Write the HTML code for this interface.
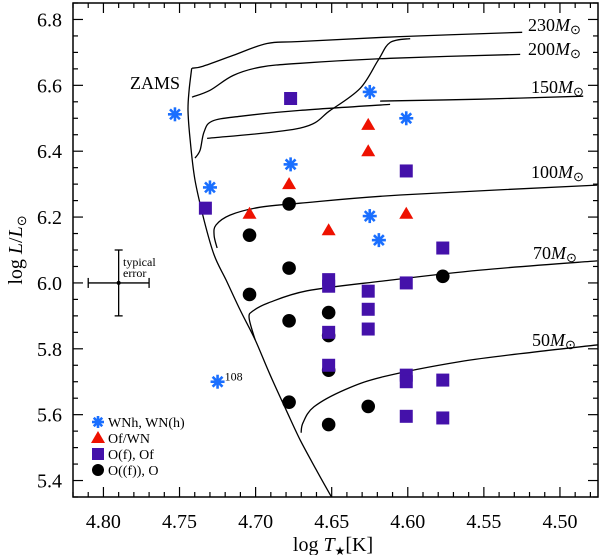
<!DOCTYPE html>
<html><head><meta charset="utf-8">
<style>
body{margin:0;background:#fff;}
svg{display:block;font-family:"Liberation Serif",serif;}
</style></head>
<body>
<svg id="chart" width="600" height="555" viewBox="0 0 600 555">
<g id="plot"></g>
</svg>
<script>
// ---- data ----
const xTicks = [4.80, 4.75, 4.70, 4.65, 4.60, 4.55, 4.50];
const xTickLabels = ["4.80","4.75","4.70","4.65","4.60","4.55","4.50"];
const yTicks = [5.4, 5.6, 5.8, 6.0, 6.2, 6.4, 6.6, 6.8];
const yTickLabels = ["5.4","5.6","5.8","6.0","6.2","6.4","6.6","6.8"];

const wnhT = [4.753, 4.730, 4.677, 4.625, 4.601, 4.625, 4.619, 4.725];
const wnhL = [6.512, 6.290, 6.360, 6.580, 6.500, 6.203, 6.130, 5.700];
const ofwnT = [4.704, 4.678, 4.652, 4.626, 4.626, 4.601];
const ofwnL = [6.210, 6.300, 6.160, 6.480, 6.400, 6.210];
const ofT = [4.733, 4.677, 4.601, 4.577, 4.652, 4.652, 4.652, 4.652, 4.626, 4.626, 4.626, 4.601, 4.601, 4.601, 4.601, 4.577, 4.577];
const ofL = [6.227, 6.560, 6.340, 6.106, 6.010, 5.990, 5.850, 5.750, 5.975, 5.920, 5.860, 6.000, 5.720, 5.700, 5.595, 5.705, 5.590];
const oT = [4.704, 4.704, 4.678, 4.678, 4.678, 4.678, 4.652, 4.652, 4.652, 4.652, 4.626, 4.577];
const oL = [6.145, 5.965, 6.240, 6.045, 5.885, 5.638, 5.910, 5.840, 5.735, 5.570, 5.625, 6.020];

const zamsT = [4.742,4.7437,4.7444,4.743,4.7398,4.7339,4.7273,4.7194,4.7102,4.7003,4.6905,4.68,4.6708,4.6602,4.6504];
const zamsL = [6.652,6.585,6.524,6.433,6.312,6.191,6.085,6.009,5.918,5.827,5.721,5.615,5.524,5.433,5.352];
const t230T = [4.7418,4.7345,4.7148,4.6925,4.6708,4.605,4.5248];
const t230L = [6.652,6.658,6.691,6.727,6.733,6.748,6.761];
const t230bT = [4.7319,4.6708,4.651,4.6313,4.6195,4.6116,4.5984];
const t230bL = [6.439,6.470,6.524,6.591,6.676,6.730,6.742];
const t200T = [4.7418,4.730,4.7148,4.697,4.6708,4.6116,4.5261];
const t200L = [6.564,6.585,6.630,6.655,6.667,6.682,6.694];
const t150T = [4.7398,4.7365,4.7339,4.7286,4.7102,4.6708,4.6116];
const t150L = [6.379,6.403,6.458,6.491,6.506,6.524,6.542];
const t150bT = [4.6182,4.5524,4.4847];
const t150bL = [6.552,6.558,6.567];
const t100T = [4.7253,4.7273,4.726,4.7168,4.697,4.6708,4.605,4.4755];
const t100L = [6.106,6.145,6.176,6.206,6.230,6.242,6.267,6.297];
const t70T = [4.7003,4.7043,4.7017,4.6918,4.6662,4.6162,4.5524,4.4755];
const t70L = [5.827,5.894,5.915,5.939,5.976,6.006,6.039,6.067];
const t50T = [4.6701,4.6688,4.6616,4.6412,4.6162,4.5656,4.5156,4.4748];
const t50L = [5.545,5.576,5.624,5.676,5.715,5.761,5.791,5.812];

// ---- axes ----
const X0=73, X1=598, Y0=3, Y1=497;
const TMAX=4.82, TMIN=4.475, LMIN=5.35, LMAX=6.85;
function sx(t){return X0+(TMAX-t)/(TMAX-TMIN)*(X1-X0);}
function sy(l){return Y1-(l-LMIN)/(LMAX-LMIN)*(Y1-Y0);}

const NS="http://www.w3.org/2000/svg";
const g=document.getElementById('plot');
function mk(tag,attrs,parent){const e=document.createElementNS(NS,tag);for(const k in attrs)e.setAttribute(k,attrs[k]);(parent||g).appendChild(e);return e;}

let fr=mk('rect',{x:X0,y:Y0,width:X1-X0,height:Y1-Y0,fill:'none',stroke:'#000','stroke-width':1.5});



for(let i=0;i<=34;i++){
  const t=4.48+i*0.01; const x=sx(t); if(x<X0||x>X1) continue;
  const major=Math.abs(Math.round(t*100)%5)===0; const len=major?10:5;
  mk('line',{x1:x,y1:Y1,x2:x,y2:Y1-len,stroke:'#000','stroke-width':1.2});
  mk('line',{x1:x,y1:Y0,x2:x,y2:Y0+len,stroke:'#000','stroke-width':1.2});
}
xTicks.forEach((t,i)=>{
  const e=mk('text',{x:sx(t),y:528,'text-anchor':'middle','font-size':20});
  e.textContent=xTickLabels[i];
  
  
});
for(let i=0;i<=30;i++){
  const l=5.35+i*0.05; const y=sy(l); if(y<Y0-0.5||y>Y1+0.5) continue;
  const major=Math.round(l*100)%20===0; const len=major?10:5;
  mk('line',{x1:X0,y1:y,x2:X0+len,y2:y,stroke:'#000','stroke-width':1.2});
  mk('line',{x1:X1,y1:y,x2:X1-len,y2:y,stroke:'#000','stroke-width':1.2});
}
yTicks.forEach((l,i)=>{
  const e=mk('text',{x:62,y:sy(l)+7,'text-anchor':'end','font-size':20});
  e.textContent=yTickLabels[i];
  
  
});

let xt=mk('text',{x:333,y:551,'text-anchor':'middle','font-size':20});
xt.innerHTML='log <tspan font-style="italic">T</tspan><tspan font-size="12" dy="4">★</tspan><tspan dy="-4">[K]</tspan>';


let yt=mk('text',{x:0,y:0,'text-anchor':'middle','font-size':20,transform:'translate(22,250) rotate(-90)'});
yt.innerHTML='log <tspan font-style="italic">L</tspan>/<tspan font-style="italic">L</tspan><tspan font-size="13" dy="4">⊙</tspan>';



function track(T,L,name){
  const P=T.map((t,i)=>[sx(t),sy(L[i])]);
  let d='M'+P[0][0].toFixed(1)+','+P[0][1].toFixed(1);
  for(let i=0;i<P.length-1;i++){
    const p0=P[Math.max(i-1,0)],p1=P[i],p2=P[i+1],p3=P[Math.min(i+2,P.length-1)];
    const c1=[p1[0]+(p2[0]-p0[0])/6,p1[1]+(p2[1]-p0[1])/6];
    const c2=[p2[0]-(p3[0]-p1[0])/6,p2[1]-(p3[1]-p1[1])/6];
    d+=` C${c1[0].toFixed(1)},${c1[1].toFixed(1)} ${c2[0].toFixed(1)},${c2[1].toFixed(1)} ${p2[0].toFixed(1)},${p2[1].toFixed(1)}`;
  }
  const p=mk('path',{d:d,fill:'none',stroke:'#000','stroke-width':1.3,'stroke-linejoin':'round'});
  
  
}
track(zamsT,zamsL,'zams-line');
track(t230T,t230L,'track-230');
track(t230bT,t230bL,'track-230-branch');
track(t200T,t200L,'track-200');
track(t150T,t150L,'track-150');
track(t150bT,t150bL,'track-150-branch');
track(t100T,t100L,'track-100');
track(t70T,t70L,'track-70');
track(t50T,t50L,'track-50');

function label(x,y,m,name){
  const e=mk('text',{x:x,y:y,'font-size':18});
  e.innerHTML=m+'<tspan font-style="italic">M</tspan><tspan font-size="13" dy="3">⊙</tspan>';
  
  
}
label(528,31,'230','label-230');
label(528,55,'200','label-200');
label(531,93,'150','label-150');
label(531,178,'100','label-100');
label(533,259,'70','label-70');
label(532,346,'50','label-50');
let zl=mk('text',{x:130,y:89,'font-size':18});
zl.textContent='ZAMS';



function star(x,y,r){
  const gg=mk('g',{stroke:'#1a6fff','stroke-width':2.6});
  for(let a=0;a<4;a++){const an=a*Math.PI/4;
    mk('line',{x1:x-r*Math.cos(an),y1:y-r*Math.sin(an),x2:x+r*Math.cos(an),y2:y+r*Math.sin(an)},gg);}
  return gg;
}
function tri(x,y){return mk('polygon',{points:`${x},${y-7} ${x-7},${y+5} ${x+7},${y+5}`,fill:'#ee1100'});}
function sq(x,y){return mk('rect',{x:x-6.5,y:y-6.5,width:13,height:13,fill:'#4411aa'});}
function circ(x,y){return mk('circle',{cx:x,cy:y,r:6.8,fill:'#000'});}

oT.forEach((t,i)=>{const e=circ(sx(t),sy(oL[i]));
  
  });
ofT.forEach((t,i)=>{const e=sq(sx(t),sy(ofL[i]));
  
  });
ofwnT.forEach((t,i)=>{const e=tri(sx(t),sy(ofwnL[i]));
  
  });
wnhT.forEach((t,i)=>{const e=star(sx(t),sy(wnhL[i]),7);
  
  });
let l108=mk('text',{x:sx(4.725)+7,y:sy(5.70)-1,'font-size':12});
l108.textContent='108';



const eg=mk('g',{stroke:'#000','stroke-width':1.3});


const ex=sx(4.79), ey=sy(6.0);
mk('line',{x1:sx(4.81),y1:ey,x2:sx(4.77),y2:ey},eg);
mk('line',{x1:ex,y1:sy(6.1),x2:ex,y2:sy(5.9)},eg);
mk('line',{x1:sx(4.81),y1:ey-5,x2:sx(4.81),y2:ey+5},eg);
mk('line',{x1:sx(4.77),y1:ey-5,x2:sx(4.77),y2:ey+5},eg);
mk('line',{x1:ex-4,y1:sy(6.1),x2:ex+4,y2:sy(6.1)},eg);
mk('line',{x1:ex-4,y1:sy(5.9),x2:ex+4,y2:sy(5.9)},eg);
mk('circle',{cx:ex,cy:ey,r:2,fill:'#000'});
let te=mk('text',{x:123,y:266,'font-size':12});
te.innerHTML='typical<tspan x="123" dy="11">error</tspan>';



const lg=mk('g',{});


const legY=[422,438,454,470];
const legTxt=['WNh, WN(h)','Of/WN','O(f), Of','O((f)), O'];
star(98,legY[0],6);
mk('polygon',{points:`98,${legY[1]-7} 91,${legY[1]+5} 105,${legY[1]+5}`,fill:'#ee1100'},lg);
mk('rect',{x:92,y:legY[2]-6,width:12,height:12,fill:'#4411aa'},lg);
mk('circle',{cx:98,cy:legY[3],r:6,fill:'#000'},lg);
legTxt.forEach((s,i)=>{const e=mk('text',{x:108,y:legY[i]+5,'font-size':14},lg);e.textContent=s;
  
  });
</script>
</body></html>
